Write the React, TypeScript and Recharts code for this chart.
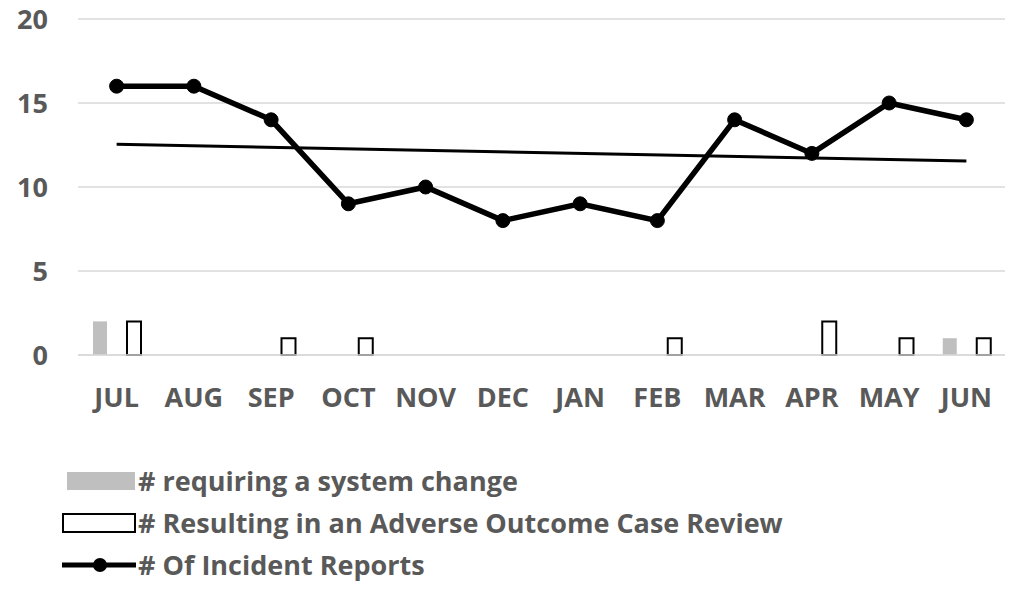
import { Bar, CartesianGrid, ComposedChart, Line, ReferenceLine, XAxis, YAxis } from "recharts";

const months = ["JUL", "AUG", "SEP", "OCT", "NOV", "DEC", "JAN", "FEB", "MAR", "APR", "MAY", "JUN"];
const incidentReports = [16, 16, 14, 9, 10, 8, 9, 8, 14, 12, 15, 14];
const systemChange = [2, 0, 0, 0, 0, 0, 0, 0, 0, 0, 0, 1];
const adverseReview = [2, 0, 1, 1, 0, 0, 0, 1, 0, 2, 1, 1];
// linear trend of incident reports, read at the first and last month
const trendStart = 12.55;
const trendEnd = 11.55;
const yTicks = [0, 5, 10, 15, 20];

const data = months.map((m, i) => ({
  month: m,
  incidents: incidentReports[i],
  system: systemChange[i],
  adverse: adverseReview[i],
}));

const FONT = "'Open Sans', sans-serif";
const TEXT = "#595959";
const GRID = "#d9d9d9";
const FS = 27;

function LegendRow({ icon, label }: { icon: React.ReactNode; label: string }) {
  return (
    <div style={{ display: "flex", alignItems: "center", height: 42 }}>
      <svg width={78} height={24}>
        {icon}
      </svg>
      <span style={{ fontSize: FS, fontWeight: 700, color: TEXT, lineHeight: "42px" }}>{label}</span>
    </div>
  );
}

export default function App() {
  return (
    <div style={{ position: "absolute", left: 0, top: 0, width: 1009, height: 592, background: "#fff", fontFamily: FONT }}>
      <ComposedChart
        width={1009}
        height={440}
        data={data}
        margin={{ top: 19, right: 4, left: 0, bottom: 0 }}
        barGap={20}
        barCategoryGap={14}
      >
        <CartesianGrid vertical={false} stroke={GRID} strokeWidth={1.5} />
        <XAxis
          dataKey="month"
          height={85}
          axisLine={{ stroke: GRID, strokeWidth: 1.5 }}
          tickLine={false}
          tickMargin={27}
          tick={{ fontSize: FS, fontWeight: 700, fill: TEXT, fontFamily: FONT }}
        />
        <YAxis
          width={78}
          domain={[0, 20]}
          ticks={yTicks}
          axisLine={false}
          tickLine={false}
          tickSize={0}
          tickMargin={30}
          tick={{ fontSize: FS, fontWeight: 700, fill: TEXT, fontFamily: FONT }}
        />
        <Bar dataKey="system" name="# requiring a system change" fill="#bfbfbf" barSize={14} isAnimationActive={false} />
        <Bar
          dataKey="adverse"
          name="# Resulting in an Adverse Outcome Case Review"
          fill="#ffffff"
          stroke="#000"
          strokeWidth={2}
          barSize={14}
          isAnimationActive={false}
        />
        <ReferenceLine
          segment={[
            { x: "JUL", y: trendStart },
            { x: "JUN", y: trendEnd },
          ]}
          stroke="#000"
          strokeWidth={3}
          ifOverflow="visible"
        />
        <Line
          dataKey="incidents"
          name="# Of Incident Reports"
          stroke="#000"
          strokeWidth={5.5}
          dot={{ r: 7, fill: "#000", stroke: "#000", strokeWidth: 1 }}
          isAnimationActive={false}
        />
      </ComposedChart>
      <div style={{ position: "absolute", left: 60, top: 460 }}>
        <LegendRow icon={<rect x={7} y={3} width={68} height={18} fill="#bfbfbf" />} label="# requiring a system change" />
        <LegendRow
          icon={<rect x={3} y={3} width={72} height={18} fill="#fff" stroke="#000" strokeWidth={2} />}
          label="# Resulting in an Adverse Outcome Case Review"
        />
        <LegendRow
          icon={
            <g>
              <line x1={2} y1={12} x2={76} y2={12} stroke="#000" strokeWidth={5} />
              <circle cx={40} cy={12} r={7} fill="#000" />
            </g>
          }
          label="# Of Incident Reports"
        />
      </div>
    </div>
  );
}
